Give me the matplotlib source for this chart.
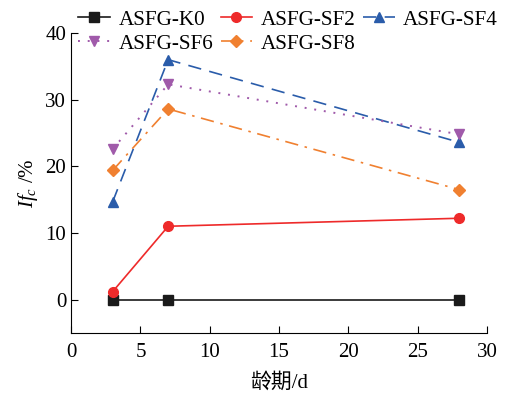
import matplotlib
matplotlib.use("Agg")
import matplotlib.pyplot as plt

x = [3, 7, 28]
k0 = [0, 0, 0]
sf2 = [1.2, 11.0, 12.2]
sf4 = [14.7, 36.0, 23.6]
sf6 = [22.6, 32.3, 24.8]
sf8 = [19.4, 28.6, 16.5]
xticks = [0, 5, 10, 15, 20, 25, 30]
yticks = [0, 10, 20, 30, 40]

plt.rcParams['font.family'] = ['Liberation Serif', 'Noto Sans CJK SC']
plt.rcParams['mathtext.fontset'] = 'custom'
plt.rcParams['mathtext.it'] = 'Liberation Serif:italic'
plt.rcParams['mathtext.rm'] = 'Liberation Serif'

fig = plt.figure(figsize=(5.12, 3.93), dpi=100)
ax = fig.add_axes([0.139, 0.153, 0.812, 0.763])

l_k0, = ax.plot(x, k0, color='#1a1a1a', ls='-', marker='s', ms=7, lw=1.2, label='ASFG-K0')
l_sf2, = ax.plot(x, sf2, color='#ee2a2a', ls='-', marker='o', ms=7, lw=1.2, label='ASFG-SF2')
l_sf4, = ax.plot(x, sf4, color='#2a5caa', ls=(0, (8, 5)), marker='^', ms=7, lw=1.2, label='ASFG-SF4')
l_sf6, = ax.plot(x, sf6, color='#a05aaa', ls=(0, (1, 4)), marker='v', ms=7, lw=1.4, label='ASFG-SF6')
l_sf8, = ax.plot(x, sf8, color='#f08030', ls=(0, (8, 4, 1.5, 4)), marker='D', ms=6, lw=1.2, label='ASFG-SF8')

ax.set_xlim(0, 30)
ax.set_ylim(-5, 40)
ax.set_xticks(xticks)
ax.set_yticks(yticks)
ax.spines['top'].set_visible(False)
ax.spines['right'].set_visible(False)
ax.tick_params(direction='in', labelsize=15, length=5)
ax.tick_params(axis='x', pad=7)
ax.set_xlabel('龄期/d', fontsize=15, labelpad=8)
ax.set_ylabel(r'$If_c$ /%', fontsize=15)

handles = [l_k0, l_sf6, l_sf2, l_sf8, l_sf4]
fig.legend(handles, [h.get_label() for h in handles],
           loc='upper left', bbox_to_anchor=(0.153, 0.975), ncol=3, frameon=False,
           fontsize=15.2, handlelength=1.5, columnspacing=0.35, handletextpad=0.4,
           labelspacing=0.2, borderpad=0.0, borderaxespad=0.0)

fig.savefig('out.png', dpi=100)
